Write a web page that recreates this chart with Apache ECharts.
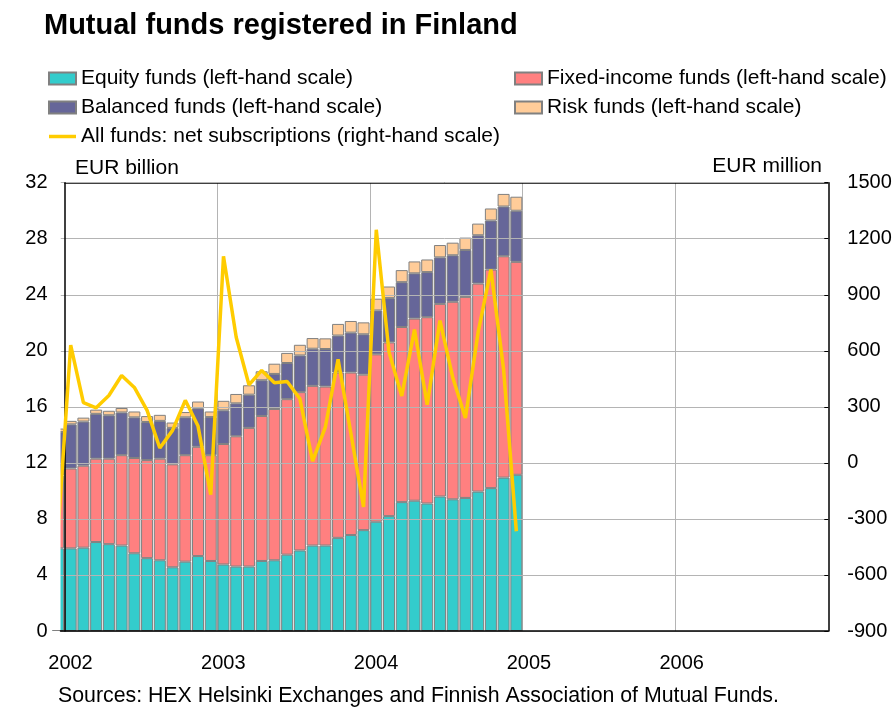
<!DOCTYPE html>
<html>
<head>
<meta charset="utf-8">
<script src="https://cdn.jsdelivr.net/npm/echarts@6/dist/echarts.min.js"></script>
<style>
html, body { margin: 0; padding: 0; background: #fff; }
#chart { width: 896px; height: 708px; }
</style>
</head>
<body>
<div id="chart"></div>
<script>
// monthly stock of funds, EUR billion (Dec 2001 is only partly visible at the left edge)
var months = [
    '2001-12',
    '2002-01', '2002-02', '2002-03', '2002-04', '2002-05', '2002-06',
    '2002-07', '2002-08', '2002-09', '2002-10', '2002-11', '2002-12',
    '2003-01', '2003-02', '2003-03', '2003-04', '2003-05', '2003-06',
    '2003-07', '2003-08', '2003-09', '2003-10', '2003-11', '2003-12',
    '2004-01', '2004-02', '2004-03', '2004-04', '2004-05', '2004-06',
    '2004-07', '2004-08', '2004-09', '2004-10', '2004-11', '2004-12'
];
var equity = [5.9,
    5.9, 5.95, 6.35, 6.2, 6.1, 5.55, 5.2, 5.05, 4.55, 4.95, 5.35, 5.0,
    4.75, 4.6, 4.6, 5.0, 5.05, 5.45, 5.75, 6.1, 6.1, 6.65, 6.85, 7.2,
    7.8, 8.2, 9.2, 9.3, 9.1, 9.6, 9.4, 9.5, 9.95, 10.2, 10.95, 11.15];
var fixedIncome = [5.2,
    5.7, 5.85, 5.95, 6.1, 6.45, 6.8, 7.0, 7.25, 7.35, 7.6, 7.8, 7.55,
    8.6, 9.3, 9.9, 10.35, 10.8, 11.1, 11.3, 11.4, 11.35, 11.8, 11.6, 11.1,
    11.95, 12.4, 12.5, 13.0, 13.3, 13.75, 14.1, 14.35, 14.85, 15.6, 15.8, 15.2];
var balanced = [3.1,
    3.15, 3.15, 3.2, 3.1, 3.05, 2.9, 2.72, 2.7, 2.6, 2.7, 2.75, 2.72,
    2.4, 2.35, 2.37, 2.55, 2.5, 2.58, 2.62, 2.65, 2.68, 2.64, 2.85, 2.88,
    3.13, 3.16, 3.2, 3.23, 3.22, 3.32, 3.32, 3.35, 3.45, 3.5, 3.55, 3.65];
var risk = [0.25,
    0.25, 0.28, 0.3, 0.32, 0.32, 0.42, 0.42, 0.43, 0.38, 0.38, 0.48, 0.4,
    0.68, 0.67, 0.67, 0.64, 0.73, 0.72, 0.76, 0.76, 0.76, 0.83, 0.83, 0.85,
    0.84, 0.83, 0.86, 0.85, 0.9, 0.88, 0.9, 0.88, 0.83, 0.86, 0.9, 1.0];
// net subscriptions, EUR million
var netSubs = [-370,
    630, 322, 295, 361, 468, 404, 281, 80, 174, 335, 197, -170,
    1106, 673, 418, 495, 429, 436, 343, 9, 192, 554, 160, -236,
    1248, 593, 358, 714, 311, 762, 459, 240, 700, 1035, 500, -366];
var yearLabels = ['2002', '2003', '2004', '2005', '2006'];

var FONT = '"Liberation Sans", Arial, sans-serif';
var GRID_GRAY = '#b4b4b4';

// month -> position on the x axis (one unit per month, Jan 2002 starts at 0)
function monthPos(m) {
    var p = m.split('-');
    return (+p[0] - 2002) * 12 + (+p[1] - 1) + 0.5;
}
function pairs(values) {
    return values.map(function (v, i) { return [v, monthPos(months[i])]; });
}

function barSeries(name, values, color, extra) {
    var s = {
        name: name,
        type: 'bar',
        stack: 'funds',
        barWidth: 12,
        encode: { x: 1, y: 0 },
        itemStyle: { color: color, borderColor: '#808080', borderWidth: 1 },
        emphasis: { disabled: true },
        data: pairs(values)
    };
    if (extra) Object.assign(s, extra);
    return s;
}

var yearLines = [12, 24, 36, 48].map(function (v) { return { xAxis: v }; });

var legendText = { fontFamily: FONT, fontSize: 21, lineHeight: 20, color: '#000' };

var myChart = echarts.init(document.getElementById('chart'));
myChart.setOption({
    animation: false,
    textStyle: { fontFamily: FONT },
    title: [
        { text: 'Mutual funds registered in Finland', left: 44, top: 11, padding: 0,
          textStyle: { fontFamily: FONT, fontSize: 29, fontWeight: 'bold', color: '#000' } },
        { text: 'EUR billion', left: 75, top: 158, padding: 0,
          textStyle: { fontFamily: FONT, fontSize: 21, fontWeight: 'normal', color: '#000', lineHeight: 20 } },
        { text: 'EUR million', right: 74, top: 156, padding: 0,
          textStyle: { fontFamily: FONT, fontSize: 21, fontWeight: 'normal', color: '#000', lineHeight: 20 } },
        { text: 'Sources: HEX Helsinki Exchanges and Finnish Association of Mutual Funds.', left: 58, top: 686, padding: 0,
          textStyle: { fontFamily: FONT, fontSize: 21.3, fontWeight: 'normal', color: '#000', lineHeight: 20 } }
    ],
    legend: [
        {
            orient: 'vertical', left: 48, top: 68, padding: 0,
            itemWidth: 27, itemHeight: 12, itemGap: 8,
            textStyle: legendText,
            data: [
                { name: 'Equity funds (left-hand scale)', icon: 'rect' },
                { name: 'Balanced funds (left-hand scale)', icon: 'rect' },
                { name: 'All funds: net subscriptions (right-hand scale)',
                  icon: 'path://M0 0H27V3.5H0Z', itemStyle: { borderWidth: 0 } }
            ],
            selectedMode: false
        },
        {
            orient: 'vertical', left: 514, top: 68, padding: 0,
            itemWidth: 27, itemHeight: 12, itemGap: 8,
            textStyle: legendText,
            data: [
                { name: 'Fixed-income funds (left-hand scale)', icon: 'rect' },
                { name: 'Risk funds (left-hand scale)', icon: 'rect' }
            ],
            selectedMode: false
        }
    ],
    grid: { left: 60.5, right: 67.7, top: 182.7, bottom: 77, containLabel: false },
    xAxis: {
        type: 'value',
        min: -0.3,
        max: 60,
        interval: 12,
        z: 3,
        axisLine: { show: true, onZero: false, lineStyle: { color: '#000', width: 1.5 } },
        axisTick: { show: false },
        splitLine: { show: false },
        axisLabel: {
            fontFamily: FONT, fontSize: 20, color: '#000', margin: 22,
            // ticks fall at min + 12k; the year label sits over its January bar
            padding: [0, 0, 0, 20],
            formatter: function (v) {
                var k = Math.round(v / 12);
                if (k >= 0 && k < yearLabels.length && Math.abs(v - 12 * k) < 0.5) return yearLabels[k];
                return '';
            }
        }
    },
    yAxis: [
        {
            type: 'value', min: 0, max: 32, interval: 4, z: 3,
            axisLine: { show: true, onZero: true, lineStyle: { color: '#000', width: 1.5 } },
            axisTick: { show: false },
            splitLine: { show: true, lineStyle: { color: GRID_GRAY, width: 1 } },
            axisLabel: { fontFamily: FONT, fontSize: 20, color: '#000', margin: 13 }
        },
        {
            type: 'value', min: -900, max: 1500, interval: 300, position: 'right', z: 3,
            axisLine: { show: true, onZero: false, lineStyle: { color: '#000', width: 1.5 } },
            axisTick: { show: true, inside: true, length: 4, lineStyle: { color: '#000' } },
            splitLine: { show: false },
            axisLabel: { fontFamily: FONT, fontSize: 20, color: '#000', margin: 19,
                         formatter: function (v) { return String(v); } }
        }
    ],
    // the bar layout does not clip the half-visible Dec 2001 bar at the plot edge
    graphic: [{
        type: 'rect', left: 48, top: 182, z: 100, silent: true,
        shape: { width: 12.5, height: 448 },
        style: { fill: '#fff' }
    }],
    series: [
        barSeries('Equity funds (left-hand scale)', equity, '#33cccc', {
            markLine: {
                silent: true, z: 1, symbol: 'none', animation: false,
                label: { show: false },
                lineStyle: { color: GRID_GRAY, width: 1, type: 'solid' },
                data: yearLines.concat([[
                    { coord: [0, 32], lineStyle: { color: '#000', width: 1.5, type: 'solid' } },
                    { coord: [60, 32] }
                ]])
            }
        }),
        barSeries('Fixed-income funds (left-hand scale)', fixedIncome, '#ff8080'),
        barSeries('Balanced funds (left-hand scale)', balanced, '#666699'),
        barSeries('Risk funds (left-hand scale)', risk, '#ffcc99'),
        {
            name: 'All funds: net subscriptions (right-hand scale)',
            type: 'line',
            yAxisIndex: 1,
            z: 4,
            encode: { x: 1, y: 0 },
            symbol: 'none',
            lineStyle: { color: '#ffcc00', width: 3.5 },
            itemStyle: { color: '#ffcc00' },
            emphasis: { disabled: true },
            data: pairs(netSubs)
        }
    ]
});
</script>
</body>
</html>
